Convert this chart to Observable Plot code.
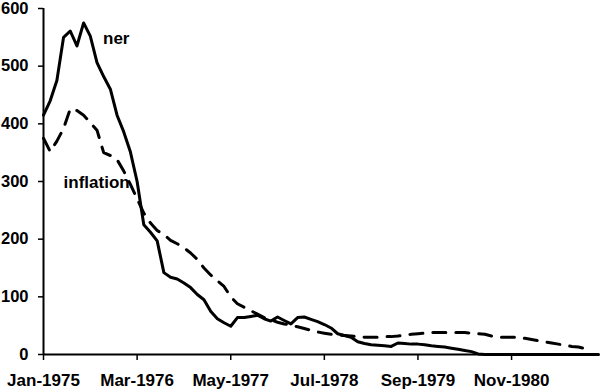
<!DOCTYPE html>
<html>
<head>
<meta charset="utf-8">
<script src="https://cdn.jsdelivr.net/npm/d3@7"></script>
<script src="https://cdn.jsdelivr.net/npm/@observablehq/plot@0.6"></script>
<style>
  html, body { margin: 0; padding: 0; background: #fff; }
  #chart svg { display: block; }
</style>
</head>
<body>
<div id="chart"></div>
<script>
// Monthly series, Jan-1975 .. Dec-1981 (index 0 = Jan-1975)
const ner = [415, 440, 475, 550, 561, 535, 575, 552, 506, 482, 460, 415, 386, 351, 300, 225,
  212, 197, 142, 134, 131, 124, 116, 104, 95, 75, 62, 55, 49, 64, 64, 66, 68, 62, 58, 65,
  59, 53, 64, 65, 61, 57, 52, 46, 36, 33, 30, 22, 19, 17, 16, 15, 14, 20, 19, 18, 18, 17,
  15, 14, 13, 11, 9, 7, 5, 1, 0, 0, 0, 0, 0, 0, 0, 0, 0, 0, 0, 0, 0, 0, 0, 0, 0, 0];
const inflation = [375, 352, 370, 392, 426, 423, 415, 402, 389, 350, 345, 338, 318, 295, 270,
  245, 228, 215, 208, 198, 192, 185, 176, 165, 150, 138, 128, 118, 100, 88, 82, 76, 70, 64,
  60, 56, 53, 51, 48, 45, 42, 39, 37, 35, 34, 33, 32, 31, 30, 30, 30, 31, 31, 32, 34, 35,
  36, 37, 38, 38, 38, 38, 38, 38, 37, 36, 35, 32, 30, 30, 30, 30, 28, 26, 24, 22, 20, 18,
  16, 14, 13, 10, 7];
const tickIndex = [0, 14, 28, 42, 56, 70];
const tickLabels = ["Jan-1975", "Mar-1976", "May-1977", "Jul-1978", "Sep-1979", "Nov-1980"];
const yTicks = [0, 100, 200, 300, 400, 500, 600];
const seriesLabels = [
  {name: "ner", x: 8.9, y: 548},
  {name: "inflation", x: 3.0, y: 298}
];

const nerData = ner.map((v, i) => ({i, v}));
const infData = inflation.map((v, i) => ({i, v}));

const chart = Plot.plot({
  width: 600,
  height: 391,
  marginLeft: 43,
  marginRight: 2,
  marginTop: 8,
  marginBottom: 37,
  style: {fontFamily: "'Liberation Sans', Arial, sans-serif", fontSize: "17px", fontWeight: "bold", color: "#000", background: "#fff"},
  x: {domain: [0, 83]},
  y: {domain: [0, 600]},
  marks: [
    Plot.axisY({ticks: yTicks, tickSize: 5, tickPadding: 10, strokeWidth: 1.5, label: null,
      fontSize: 16.5, tickFormat: d => d}),
    Plot.axisX({ticks: tickIndex, tickSize: 6, tickPadding: 13, strokeWidth: 1.5, label: null,
      tickFormat: d => tickLabels[tickIndex.indexOf(d)]}),
    Plot.line(infData, {x: "i", y: "v", stroke: "#000", strokeWidth: 3, strokeDasharray: "13,10"}),
    Plot.line(nerData, {x: "i", y: "v", stroke: "#000", strokeWidth: 3}),
    Plot.ruleX([0], {stroke: "#000", strokeWidth: 2}),
    Plot.ruleY([0], {stroke: "#000", strokeWidth: 2}),
    Plot.text(seriesLabels, {x: "x", y: "y", text: "name", textAnchor: "start", fill: "#000",
      fontSize: 17, fontWeight: "bold"})
  ]
});
document.getElementById("chart").appendChild(chart);
</script>
</body>
</html>
